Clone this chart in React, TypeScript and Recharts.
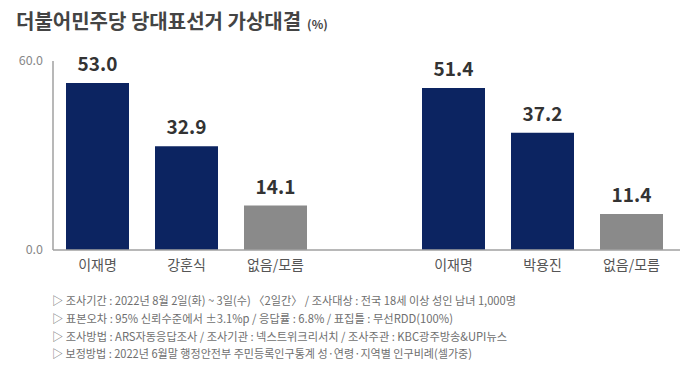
import { BarChart, Bar, XAxis, YAxis, Cell, LabelList } from 'recharts';

// 가상대결 1: 이재명 vs 강훈식
const matchA = ['이재명', '강훈식', '없음/모름'];
const valuesA = [53.0, 32.9, 14.1];
// 가상대결 2: 이재명 vs 박용진
const matchB = ['이재명', '박용진', '없음/모름'];
const valuesB = [51.4, 37.2, 11.4];

const yTicks = [0, 60];

const notes = [
  '▷ 조사기간 : 2022년 8월 2일(화) ~ 3일(수) 〈2일간〉 / 조사대상 : 전국 18세 이상 성인 남녀 1,000명',
  '▷ 표본오차 : 95% 신뢰수준에서 ±3.1%p / 응답률 : 6.8% / 표집틀 : 무선RDD(100%)',
  '▷ 조사방법 : ARS자동응답조사 / 조사기관 : 넥스트위크리서치 / 조사주관 : KBC광주방송&UPI뉴스',
  '▷ 보정방법 : 2022년 6월말 행정안전부 주민등록인구통계 성·연령·지역별 인구비례(셀가중)',
];
const noteWidths = [464, 401, 455, 420];

const NAVY = '#0c2461';
const GRAY = '#8a8a8a';
const FONT = '"Noto Sans CJK KR", "Noto Sans", sans-serif';

const data = [
  ...matchA.map((name, i) => ({ name, value: valuesA[i], other: name === '없음/모름' })),
  { name: '', value: null, other: false },
  ...matchB.map((name, i) => ({ name, value: valuesB[i], other: name === '없음/모름' })),
];

export default function App() {
  return (
    <div style={{ position: 'absolute', left: 0, top: 0, width: 680, height: 376, background: '#fff', fontFamily: FONT }}>
      <BarChart width={680} height={376} data={data} margin={{ top: 61, right: 4, left: 0, bottom: 96 }}>
        <XAxis
          dataKey="name"
          height={30}
          axisLine={{ stroke: '#a0a0a0', strokeWidth: 1.5 }}
          tickLine={false}
          tick={{ fontSize: 14, fill: '#555', fontFamily: FONT }}
          tickMargin={4}
        />
        <YAxis
          width={53}
          domain={[0, 60]}
          ticks={yTicks}
          tickFormatter={(v: number) => v.toFixed(1)}
          axisLine={{ stroke: '#a0a0a0', strokeWidth: 1.5 }}
          tickLine={false}
          tick={{ fontSize: 12.5, fill: '#888', fontFamily: FONT }}
          tickMargin={4}
        />
        <Bar dataKey="value" barSize={63} isAnimationActive={false}>
          {data.map((d, i) => (
            <Cell key={i} fill={d.other ? GRAY : NAVY} />
          ))}
          <LabelList
            dataKey="value"
            position="top"
            offset={12}
            formatter={(v: any) => (v == null ? '' : Number(v).toFixed(1))}
            style={{ fontSize: 19, fontWeight: 700, fill: '#333', fontFamily: FONT }}
          />
        </Bar>
      </BarChart>
      <svg width={680} height={376} style={{ position: 'absolute', left: 0, top: 0, pointerEvents: 'none' }}>
        <line x1={676} x2={680} y1={250} y2={250} stroke="#a0a0a0" strokeWidth={1.5} />
        <text x={16} y={29} fontSize={20} fontWeight={700} fill="#444" fontFamily={FONT}>
          더불어민주당 당대표선거 가상대결
          <tspan fontSize={12} dx={6}>(%)</tspan>
        </text>
        {notes.map((t, i) => (
          <text
            key={i}
            x={52}
            y={305 + i * 17.8}
            fontSize={11.5}
            fill="#6f6f6f"
            fontFamily={FONT}
            textLength={noteWidths[i]}
            lengthAdjust="spacingAndGlyphs"
          >
            {t}
          </text>
        ))}
      </svg>
    </div>
  );
}
